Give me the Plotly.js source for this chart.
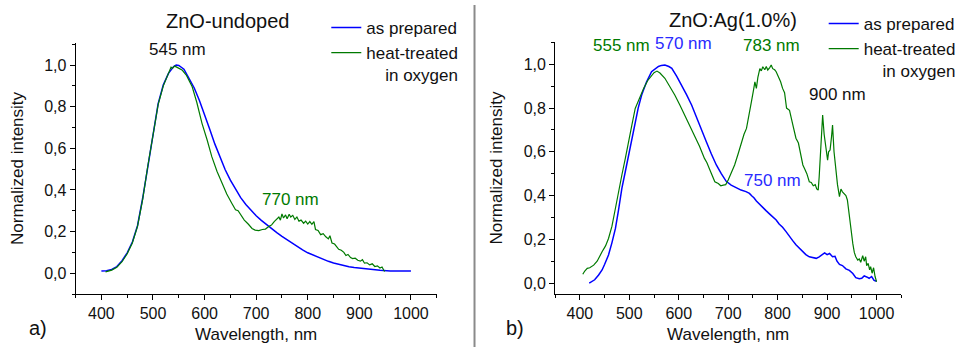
<!DOCTYPE html>
<html>
<head>
<meta charset="utf-8">
<script src="https://cdn.plot.ly/plotly-3.0.1.min.js"></script>
<style>html,body{margin:0;padding:0;background:#fff;}#chart{width:961px;height:347px;}</style>
</head>
<body>
<div id="chart"></div>
<script>
// ---- Panel a) ZnO-undoped ----
var undopedPreparedWl = [400,410,420,430,440,450,460,470,480,490,500,510,520,530,540,545,550,560,570,580,590,600,610,620,630,640,650,660,670,680,690,700,710,720,730,740,750,760,770,780,790,800,810,820,830,840,850,860,870,880,890,900,920,940,960,980,990,1000];
var undopedPreparedInt = [0.010,0.012,0.018,0.032,0.060,0.098,0.150,0.228,0.360,0.515,0.665,0.815,0.905,0.960,0.993,1.000,0.998,0.980,0.935,0.890,0.830,0.765,0.692,0.620,0.555,0.497,0.447,0.402,0.363,0.330,0.301,0.276,0.254,0.233,0.213,0.195,0.177,0.160,0.143,0.127,0.112,0.098,0.087,0.076,0.066,0.057,0.049,0.042,0.036,0.031,0.027,0.024,0.018,0.014,0.011,0.010,0.008,0.011];

var undopedHeatedWl = [408,420,430,440,450,460,470,480,490,500,510,520,530,535,538,542,546,550,557,565,576,585,595,605,614,624,634,643,653,660,665,669,677,685,692,698,705,712,718,725,730,735,740,744,747,750,753,757,760,764,767,771,775,779,783,787,792,796,800,804,808,812,815,820,825,830,835,840,843,847,852,856,860,865,870,874,878,883,887,892,897,902,906,910,915,920,925,930,935,940,944,948,950];
var undopedHeatedInt = [0.006,0.015,0.028,0.055,0.093,0.145,0.225,0.355,0.515,0.665,0.810,0.900,0.965,0.990,0.985,0.995,0.990,0.985,0.975,0.950,0.896,0.820,0.720,0.640,0.560,0.490,0.430,0.380,0.335,0.305,0.300,0.285,0.255,0.235,0.215,0.207,0.205,0.210,0.212,0.225,0.232,0.248,0.260,0.270,0.255,0.285,0.265,0.280,0.262,0.283,0.270,0.278,0.258,0.270,0.250,0.255,0.240,0.250,0.236,0.248,0.235,0.248,0.210,0.205,0.185,0.190,0.175,0.165,0.180,0.145,0.140,0.125,0.115,0.110,0.100,0.085,0.090,0.075,0.070,0.072,0.062,0.058,0.065,0.048,0.050,0.040,0.045,0.032,0.035,0.025,0.030,0.012,0.010];

// ---- Panel b) ZnO:Ag(1.0%) ----
var agPreparedWl = [419,430,438,445,450,458,465,472,478,485,492,498,505,512,518,525,535,545,552,559,565,572,580,586,596,606,616,626,636,646,656,666,676,686,696,706,716,726,736,743,748,752,757,763,770,777,784,790,797,803,810,817,823,830,837,844,850,857,864,871,878,884,890,895,900,905,911,916,920,925,931,938,945,952,958,965,970,975,980,985,990,995,1000];
var agPreparedInt = [0.000,0.015,0.037,0.060,0.085,0.128,0.185,0.250,0.330,0.433,0.510,0.580,0.660,0.737,0.800,0.860,0.920,0.966,0.980,0.990,0.995,0.997,0.990,0.982,0.945,0.905,0.860,0.814,0.760,0.707,0.645,0.590,0.540,0.500,0.465,0.448,0.435,0.425,0.418,0.410,0.398,0.390,0.375,0.360,0.345,0.330,0.315,0.302,0.288,0.270,0.255,0.235,0.215,0.195,0.175,0.160,0.145,0.130,0.120,0.115,0.113,0.120,0.130,0.138,0.130,0.135,0.120,0.122,0.100,0.085,0.080,0.065,0.058,0.044,0.025,0.020,0.022,0.033,0.028,0.022,0.030,0.012,0.008];

var agHeatedWl = [406,410,415,420,428,435,445,452,458,465,472,478,485,492,498,505,512,520,529,537,545,550,556,562,572,582,592,602,612,622,632,642,652,657,663,668,673,680,685,690,695,700,706,713,720,727,732,737,742,747,751,754,757,760,764,767,770,774,777,780,784,787,790,794,797,802,806,810,814,818,824,830,837,842,846,851,855,859,864,868,872,876,879,882,884,887,891,894,897,899,901,903,906,909,911,914,918,921,925,928,931,935,938,941,945,948,952,955,958,962,965,968,972,975,978,980,983,986,988,991,994,997,1000];
var agHeatedInt = [0.040,0.055,0.067,0.070,0.082,0.100,0.143,0.170,0.204,0.260,0.342,0.420,0.494,0.570,0.646,0.720,0.798,0.845,0.890,0.925,0.951,0.962,0.969,0.960,0.936,0.900,0.860,0.815,0.768,0.725,0.677,0.625,0.570,0.550,0.517,0.490,0.463,0.455,0.445,0.448,0.450,0.471,0.500,0.540,0.590,0.646,0.680,0.707,0.760,0.829,0.880,0.920,0.890,0.940,0.980,0.970,0.989,0.975,0.990,0.974,0.985,0.997,0.980,0.975,0.966,0.940,0.920,0.890,0.870,0.800,0.790,0.730,0.662,0.640,0.600,0.540,0.520,0.500,0.463,0.460,0.445,0.450,0.430,0.425,0.486,0.620,0.768,0.680,0.623,0.590,0.562,0.600,0.608,0.670,0.722,0.600,0.500,0.450,0.395,0.430,0.417,0.405,0.400,0.380,0.300,0.230,0.180,0.140,0.120,0.105,0.110,0.095,0.125,0.100,0.120,0.080,0.090,0.060,0.075,0.045,0.070,0.030,0.006];

// ---- Ticks and labels ----
var xTickVals = [400,500,600,700,800,900,1000];
var xTickText = ['400','500','600','700','800','900','1000'];
var yTickVals = [0,0.2,0.4,0.6,0.8,1.0];
var yTickText = ['0,0','0,2','0,4','0,6','0,8','1,0'];
var seriesNames = ['as prepared', 'heat-treated<br>\u00A0\u00A0\u00A0\u00A0in oxygen'];
var panelTitles = ['ZnO-undoped', 'ZnO:Ag(1.0%)'];
var panelLetters = ['a)', 'b)'];

var BLUE = '#0000ff', GREEN = '#007a00', BLUETEXT = '#2a2aff';
var FONT = 'Liberation Sans, Arial, Helvetica, sans-serif';

var traces = [
  {x: undopedPreparedWl, y: undopedPreparedInt, xaxis:'x', yaxis:'y', mode:'lines', name: seriesNames[0], legend:'legend', line:{color:BLUE, width:1.5}},
  {x: undopedHeatedWl, y: undopedHeatedInt, xaxis:'x', yaxis:'y', mode:'lines', name: seriesNames[1], legend:'legend', line:{color:GREEN, width:1.2}},
  {x: agPreparedWl, y: agPreparedInt, xaxis:'x2', yaxis:'y2', mode:'lines', name: seriesNames[0], legend:'legend2', line:{color:BLUE, width:1.5}},
  {x: agHeatedWl, y: agHeatedInt, xaxis:'x2', yaxis:'y2', mode:'lines', name: seriesNames[1], legend:'legend2', line:{color:GREEN, width:1.2}}
];

function xAxis(domain, anchor) {
  return {
    domain: domain, anchor: anchor, range: [350, 1050],
    showline: true, linecolor: '#000', linewidth: 1, mirror: false,
    showgrid: false, zeroline: false,
    ticks: 'outside', ticklen: 5, tickwidth: 1, tickcolor: '#000',
    tickmode: 'array', tickvals: xTickVals, ticktext: xTickText,
    minor: {tickmode: 'linear', tick0: 350, dtick: 100, ticks: 'outside', ticklen: 3, tickcolor: '#000', showgrid: false},
    tickfont: {size: 16, color: '#111', family: FONT},
    title: {text: 'Wavelength, nm', font: {size: 17, color: '#111', family: FONT}, standoff: 6}
  };
}
function yAxis(domain, anchor, range) {
  return {
    domain: domain, anchor: anchor, range: range,
    showline: true, linecolor: '#000', linewidth: 1, mirror: false,
    showgrid: false, zeroline: false,
    ticks: 'outside', ticklen: 5, tickwidth: 1, tickcolor: '#000',
    tickmode: 'array', tickvals: yTickVals, ticktext: yTickText,
    minor: {tickmode: 'linear', tick0: 0.1, dtick: 0.2, ticks: 'outside', ticklen: 3, tickcolor: '#000', showgrid: false},
    tickfont: {size: 16, color: '#111', family: FONT},
    title: {text: 'Normalized intensity', font: {size: 17, color: '#111', family: FONT}, standoff: 16}
  };
}

var W = 961, H = 347;
function px(x) { return x / W; }
function py(y) { return 1 - y / H; }
function note(text, xref, yref, x, y, size, color) {
  return {text: text, xref: xref, yref: yref, x: x, y: y, xanchor: 'center', yanchor: 'middle',
          showarrow: false, font: {size: size, color: color, family: FONT}};
}

var layout = {
  width: W, height: H,
  margin: {l: 0, r: 0, t: 0, b: 0},
  paper_bgcolor: '#fff', plot_bgcolor: '#fff',
  font: {family: FONT, size: 16, color: '#111'},
  xaxis: xAxis([px(76), px(439)], 'y'),
  yaxis: yAxis([py(294), py(43)], 'x', [-0.1, 1.106]),
  xaxis2: xAxis([px(558), px(906)], 'y2'),
  yaxis2: yAxis([py(294), py(42)], 'x2', [-0.05, 1.102]),
  showlegend: true,
  legend: {x: px(328), y: py(10), xanchor: 'left', yanchor: 'top', bgcolor: 'rgba(0,0,0,0)', borderwidth: 0,
           font: {size: 17, color: '#111', family: FONT}, valign: 'top', tracegroupgap: 0},
  legend2: {x: px(828), y: py(6), xanchor: 'left', yanchor: 'top', bgcolor: 'rgba(0,0,0,0)', borderwidth: 0,
            font: {size: 17, color: '#111', family: FONT}, valign: 'top', tracegroupgap: 0},
  shapes: [
    {type: 'line', xref: 'paper', yref: 'paper', x0: px(477), x1: px(477), y0: 0, y1: py(5), line: {color: '#8a8a8a', width: 2}}
  ],
  annotations: [
    note(panelTitles[0], 'paper', 'paper', px(229), py(21), 20, '#111'),
    note(panelTitles[1], 'paper', 'paper', px(737), py(20), 20, '#111'),
    note(panelLetters[0], 'paper', 'paper', px(38), py(328), 20, '#111'),
    note(panelLetters[1], 'paper', 'paper', px(518), py(328), 20, '#111'),
    note('545 nm', 'x', 'y', 548, 1.077, 17, '#111'),
    note('770 nm', 'x', 'y', 767, 0.356, 17, GREEN),
    note('555 nm', 'x2', 'y2', 485, 1.084, 17, GREEN),
    note('570 nm', 'x2', 'y2', 610, 1.093, 17, BLUETEXT),
    note('783 nm', 'x2', 'y2', 787, 1.084, 17, GREEN),
    note('900 nm', 'x2', 'y2', 922, 0.86, 17, '#111'),
    note('750 nm', 'x2', 'y2', 789, 0.471, 17, BLUETEXT)
  ]
};

Plotly.newPlot('chart', traces, layout, {staticPlot: true, displayModeBar: false});
</script>
</body>
</html>
